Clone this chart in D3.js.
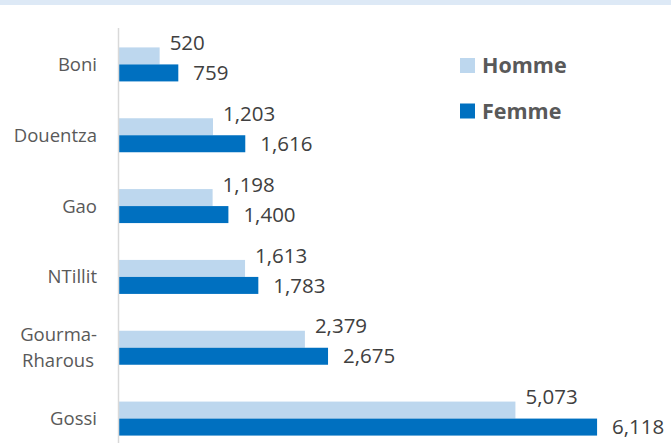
<!DOCTYPE html>
<html>
<head>
<meta charset="utf-8">
<script src="https://cdn.jsdelivr.net/npm/d3@7/dist/d3.min.js"></script>
<style>
  html, body { margin: 0; padding: 0; background: #ffffff; }
  svg { display: block; }
</style>
</head>
<body>
<svg id="chart" width="671" height="443"></svg>
<script>
const categories = ["Boni", "Douentza", "Gao", "NTillit", "Gourma-\nRharous", "Gossi"];
const seriesNames = ["Homme", "Femme"];
const homme = [520, 1203, 1198, 1613, 2379, 5073];
const femme = [759, 1616, 1400, 1783, 2675, 6118];
const xMax = 7000;

const colors = { Homme: "#bdd7ee", Femme: "#0070c0" };
const W = 671, H = 443;
const svg = d3.select("#chart");

// top band
svg.append("rect").attr("x", 0).attr("y", 0).attr("width", W).attr("height", 5).attr("fill", "#dde9f6");

const x = d3.scaleLinear().domain([0, xMax]).range([119, 666]);
const y = d3.scaleBand().domain(categories).range([29, 454]).paddingInner(0.52).paddingOuter(0.26);
const ys = d3.scaleBand().domain(seriesNames).range([0, y.bandwidth()]);

const data = categories.map((c, i) => ({ cat: c, Homme: homme[i], Femme: femme[i] }));

const groups = svg.append("g").selectAll("g").data(data).join("g")
  .attr("transform", d => `translate(0,${y(d.cat)})`);

seriesNames.forEach(s => {
  groups.append("rect")
    .attr("x", x(0))
    .attr("y", ys(s))
    .attr("width", d => x(d[s]) - x(0))
    .attr("height", ys.bandwidth())
    .attr("fill", colors[s]);
  groups.append("text")
    .attr("x", d => x(d[s]) + (s === "Homme" ? 10 : 15))
    .attr("y", ys(s) + ys.bandwidth() / 2 + (s === "Homme" ? -13 : 0))
    .attr("dy", "0.35em")
    .attr("font-family", "'Open Sans', sans-serif")
    .attr("font-size", 20.5)
    .attr("fill", "#404040")
    .text(d => d3.format(",")(d[s]));
});

// axis line
svg.append("line").attr("x1", 118.5).attr("x2", 118.5).attr("y1", 28).attr("y2", H)
  .attr("stroke", "#d9d9d9").attr("stroke-width", 1.5);

// category labels
const yAxis = d3.axisLeft(y).tickSize(0).tickFormat("");
const ag = svg.append("g").attr("transform", "translate(118,0)").call(yAxis);
ag.select(".domain").remove();
ag.selectAll(".tick").each(function(d) {
  const lines = d.split("\n");
  const t = d3.select(this).append("text")
    .attr("x", -21)
    .attr("text-anchor", "end")
    .attr("font-family", "'Open Sans', sans-serif")
    .attr("font-size", 18.5)
    .attr("fill", "#595959");
  lines.forEach((l, i) => {
    t.append("tspan").attr("x", -21 - (i === 1 ? 3 : 0))
      .attr("dy", i === 0 ? `${0.35 - (lines.length - 1) * 0.7}em` : "1.4em")
      .text(l);
  });
});

// legend
const legend = svg.append("g");
seriesNames.forEach((s, i) => {
  const ly = 65.5 + i * 45.5;
  legend.append("rect").attr("x", 460).attr("y", ly - 7.5).attr("width", 15).attr("height", 15).attr("fill", colors[s]);
  legend.append("text").attr("x", 482).attr("y", ly).attr("dy", "0.36em")
    .attr("font-family", "'Open Sans', sans-serif").attr("font-weight", "bold")
    .attr("font-size", 21.5).attr("fill", "#595959").text(s);
});
</script>
</body>
</html>
